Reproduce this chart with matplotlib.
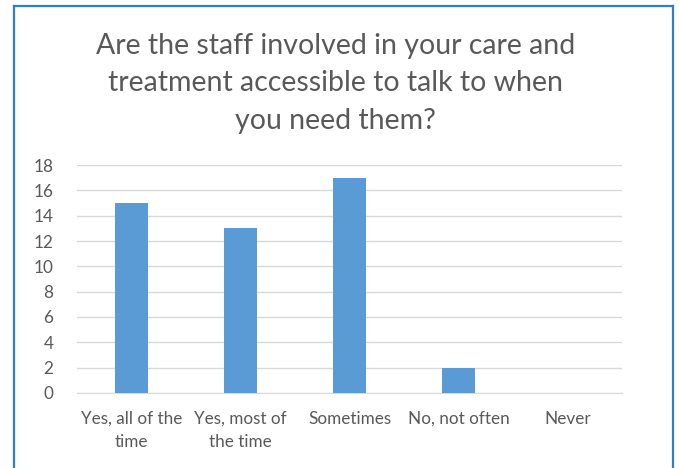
import matplotlib.pyplot as plt
from matplotlib.lines import Line2D

# survey responses
answers = ["Yes, all of the\ntime", "Yes, most of\nthe time", "Sometimes",
           "No, not often", "Never"]
counts = [15, 13, 17, 2, 0]
yticks = list(range(0, 19, 2))

title = ("Are the staff involved in your care and\n"
         "treatment accessible to talk to when\n"
         "you need them?")

text_grey = "#595959"
bar_blue = "#5b9bd5"
grid_grey = "#d9d9d9"
frame_blue = "#2e7dd1"

plt.rcParams["font.family"] = ["Lato", "DejaVu Sans"]

fig = plt.figure(figsize=(6.79, 4.68), dpi=100)
ax = fig.add_axes([0.1134, 0.1603, 0.8026, 0.4871])

x = range(len(answers))
ax.bar(x, counts, width=0.3, color=bar_blue, zorder=3)

ax.set_xlim(-0.5, len(answers) - 0.5)
ax.set_ylim(0, 18)
ax.set_yticks(yticks)
ax.set_xticks(list(x))
ax.set_xticklabels(answers, fontsize=12.3, color=text_grey, linespacing=1.55)
ax.tick_params(axis="y", labelsize=12.3, labelcolor=text_grey, length=0, pad=17)
ax.tick_params(axis="x", length=0, pad=13)
ax.grid(axis="y", color=grid_grey, linewidth=1, zorder=0)
for side in ["top", "right", "left"]:
    ax.spines[side].set_visible(False)
ax.spines["bottom"].set_color(grid_grey)

fig.text(0.494, 0.93, title, ha="center", va="top", fontsize=20.5,
         color=text_grey, linespacing=1.55)

# blue outline round the chart (open at the bottom)
fx0, fx1, fy1 = 13.5 / 679, 672.5 / 679, 1 - 5.5 / 468
for xs, ys in [([fx0, fx0], [0, fy1]), ([fx0, fx1], [fy1, fy1]), ([fx1, fx1], [fy1, 0])]:
    fig.add_artist(Line2D(xs, ys, transform=fig.transFigure, color=frame_blue, linewidth=1.6))

fig.savefig("out.png", dpi=100)
